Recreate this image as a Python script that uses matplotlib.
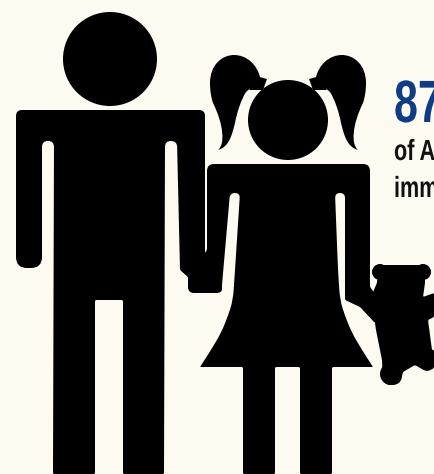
#!/usr/bin/env python3
"""Pictogram of a man, a girl and a teddy bear, with a cropped statistic at the right."""
import matplotlib
matplotlib.use("Agg")
import matplotlib.pyplot as plt
import numpy as np
from matplotlib.patches import Circle, PathPatch, Polygon
from matplotlib.path import Path
from matplotlib.patheffects import AbstractPathEffect
from matplotlib.transforms import Affine2D

BACKGROUND = "#fdfaf2"
BLUE = "#0f3d85"
INK = "#000000"

# Outlines in image pixels; an optional third number is the corner radius.
man_head = (110, 59, 47)
man_body = [
    (16, 110, 6), (205, 110, 6), (205, 290), (190, 290), (188, 277), (180, 270),
    (177, 141, 6), (165, 141, 6), (164, 474), (123, 474), (123, 300),
    (95, 300), (95, 474), (53, 474), (54, 141, 6), (42, 141, 6),
    (42, 268, 11), (16, 268, 11),
]
girl_head = (288, 120, 40)
girl_body = [
    (207, 164, 7), (370, 164, 7), (370, 287), (380, 300), (375, 323), (360, 307),
    (345, 300), (345, 193, 5), (335, 193, 5), (338, 270, 10), (340, 300, 10),
    (345, 316, 8), (352, 333, 8), (362, 350, 8), (373, 367, 1), (332, 367), (332, 474),
    (300, 474), (300, 367), (275, 367), (275, 474), (243, 474), (243, 367),
    (200, 367, 1), (211, 350, 8), (221, 333, 8), (228, 316, 8), (233, 300, 10), (235, 270, 10),
    (240, 193, 5), (230, 193, 5), (222, 285), (222, 293, 6), (188, 293, 6),
    (188, 277), (207, 250),
]
# Left ponytail as cubic Bezier segments, mirrored about the head centre for the right one.
ponytail_start = (218, 150)
ponytail_curves = [
    ((225, 145), (224, 125), (213, 103)),
    ((211, 97), (210, 90), (210, 83)),
    ((210, 65), (222, 55), (234, 55)),
    ((247, 55), (257, 65), (260, 77)),
    ((255, 82), (252, 87), (246, 92)),
    ((241, 100), (237, 112), (235, 123)),
    ((232, 135), (229, 147), (218, 150)),
]
hair_band = [(256, 76), (267, 79), (263, 90), (249, 90)]
bear_body = [
    (378, 265), (425, 265), (425, 283), (423, 297), (434, 293), (434, 317), (428, 320),
    (432, 350), (434, 350), (434, 368), (427, 372, 5), (415, 365), (403, 372),
    (400, 385, 8), (383, 385, 8), (382, 360), (376, 330), (375, 323), (373, 292),
    (377, 283),
]
bear_parts = [(380, 272, 8), (423, 272, 8), (391, 374, 11)]

big_number = "87"
text_lines = ["of A", "imm"]


class Squeeze(AbstractPathEffect):
    """Draw a text narrower than its font, keeping its left edge in place."""

    def __init__(self, x_scale):
        super().__init__()
        self.x_scale = x_scale

    def draw_path(self, renderer, gc, tpath, affine, rgbFace=None):
        left = self.left_px
        squeeze = Affine2D().translate(-left, 0).scale(self.x_scale, 1).translate(left, 0)
        renderer.draw_path(gc, tpath, affine + squeeze, rgbFace)


def rounded_path(points, default_radius=1.5):
    # Polygon whose corners are cut by quadratic curves.
    verts, codes = [], []
    n = len(points)
    for i, p in enumerate(points):
        radius = p[2] if len(p) > 2 else default_radius
        here = np.array(p[:2], dtype=float)
        before = np.array(points[i - 1][:2], dtype=float)
        after = np.array(points[(i + 1) % n][:2], dtype=float)
        d1 = before - here
        d2 = after - here
        a = here + d1 / np.linalg.norm(d1) * min(radius, np.linalg.norm(d1) / 2)
        b = here + d2 / np.linalg.norm(d2) * min(radius, np.linalg.norm(d2) / 2)
        verts.append(a)
        codes.append(Path.MOVETO if i == 0 else Path.LINETO)
        verts += [here, b]
        codes += [Path.CURVE3, Path.CURVE3]
    verts.append(verts[0])
    codes.append(Path.CLOSEPOLY)
    return Path(verts, codes)


def mirrored(q, mirror_x):
    return q if mirror_x is None else (2 * mirror_x - q[0], q[1])


def ponytail_path(mirror_x=None):
    verts = [mirrored(ponytail_start, mirror_x)]
    codes = [Path.MOVETO]
    for curve in ponytail_curves:
        verts += [mirrored(q, mirror_x) for q in curve]
        codes += [Path.CURVE4] * 3
    return Path(verts, codes)


def squeezed_text(ax, x, y, label, x_scale, **kwargs):
    effect = Squeeze(x_scale)
    effect.left_px = ax.transData.transform((x, y))[0]
    return ax.text(x, y, label, fontweight="bold", family="Liberation Sans",
                   va="baseline", ha="left", path_effects=[effect], **kwargs)


fig = plt.figure(figsize=(4.34, 4.74), dpi=100, facecolor=BACKGROUND)
ax = fig.add_axes([0, 0, 1, 1])
ax.set_xlim(0, 434)
ax.set_ylim(474, 0)
ax.axis("off")

for x, y, r in [man_head, girl_head] + bear_parts:
    ax.add_patch(Circle((x, y), r, facecolor=INK, edgecolor="none"))
for outline in [man_body, girl_body, bear_body]:
    ax.add_patch(PathPatch(rounded_path(outline), facecolor=INK, edgecolor="none"))
for side in [None, girl_head[0]]:
    ax.add_patch(PathPatch(ponytail_path(side), facecolor=INK, edgecolor="none"))
    ax.add_patch(Polygon([mirrored(q, side) for q in hair_band], facecolor=INK, edgecolor="none"))

squeezed_text(ax, 394, 122, big_number, 0.72, color=BLUE, fontsize=43)
squeezed_text(ax, 394, 160, text_lines[0], 0.74, color="#111111", fontsize=21)
squeezed_text(ax, 394, 197, text_lines[1], 0.74, color="#111111", fontsize=21)

fig.savefig("out.png", dpi=100, facecolor=BACKGROUND)
plt.close(fig)
